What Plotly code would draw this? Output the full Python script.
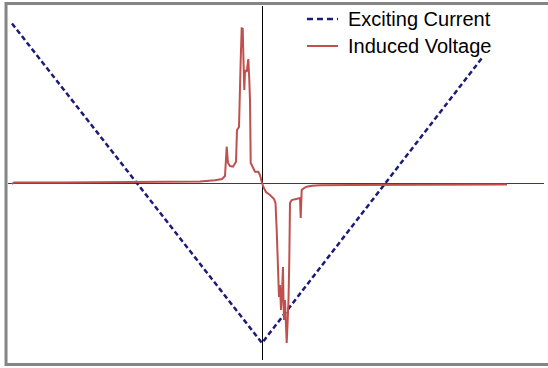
import plotly.graph_objects as go

# Exciting current (V shape) - time units, current units
current_t = [-25.0, 0.0, 22.0]
current_v = [16.0, -15.95, 12.55]

# Induced voltage (pixel estimates converted below)
volt_px = [12, 14, 60, 120, 180, 200, 215, 222, 225, 226.7, 228, 230, 233, 236, 237, 239, 240.7,
           241.7, 242.2, 242.7, 243.3, 244.3, 245, 245.7, 246.7, 247.5, 248.3, 249.3, 250, 250.7,
           253.3, 255, 258.3, 260, 261.7, 263.3, 266, 270, 274, 275.5, 276.7, 278, 279, 280, 281,
           282, 283, 283.5, 284, 285, 286, 286.7, 287.5, 288.5, 289.3, 290, 291.7, 295, 300,
           300.7, 301.7, 304, 306.7, 312, 320, 350, 400, 450, 507]
volt_py = [184, 182.5, 182.5, 182.3, 182.0, 181.5, 180.2, 179, 176, 146.7, 163, 166, 166.7, 161.7, 130, 127, 60,
           27.3, 40, 28, 53, 90, 72, 70, 72, 65, 59, 80, 100, 163,
           168, 171.7, 171.7, 175, 181.7, 186.7, 192, 195, 199, 203, 230, 270, 297, 285, 310,
           292, 267, 300, 320, 300, 330, 343, 325, 300, 260, 203, 200, 199, 198,
           218, 190, 188, 186.7, 185.7, 185.2, 185, 184.8, 184.6, 184.5]

volt_t = [(p - 262) / 10 for p in volt_px]
volt_v = [(183.5 - p) / 10 for p in volt_py]

series_names = ["Exciting Current", "Induced Voltage"]
series_colors = ["#1c1c78", "#c0504d"]

fig = go.Figure()
fig.add_trace(go.Scatter(x=current_t, y=current_v, mode="lines", name=series_names[0],
                         line=dict(color=series_colors[0], width=2.5, dash="5px,3px")))
fig.add_trace(go.Scatter(x=volt_t, y=volt_v, mode="lines", name=series_names[1],
                         line=dict(color=series_colors[1], width=2)))

fig.update_xaxes(range=[-25.4, 28.2], showgrid=False, showticklabels=False, ticks="",
                 zeroline=True, zerolinecolor="#000000", zerolinewidth=1, showline=False)
fig.update_yaxes(range=[-17.65, 17.75], showgrid=False, showticklabels=False, ticks="",
                 zeroline=True, zerolinecolor="#3a3a5a", zerolinewidth=1, showline=False)

fig.add_shape(type="rect", xref="paper", yref="paper", x0=-0.0037, x1=1.03, y0=-0.0127, y1=1.0071,
              line=dict(color="#858585", width=3), layer="above")

# Manual legend (symbols + text) placed as in the reference
legend_y = [0.9633, 0.887]
legend_dash = ["6px,4px", "solid"]
legend_width = [2.5, 2]
for name, col, ly, dsh, lw in zip(series_names, series_colors, legend_y, legend_dash, legend_width):
    fig.add_shape(type="line", xref="paper", yref="paper", x0=0.5578, x1=0.6157, y0=ly, y1=ly,
                  line=dict(color=col, width=lw, dash=dsh))
    fig.add_annotation(xref="paper", yref="paper", x=0.6306, y=ly, xanchor="left", yanchor="middle",
                       text=name, showarrow=False,
                       font=dict(family="Liberation Sans, Arial", size=20, color="#000000"))

fig.update_layout(
    width=548, height=368,
    margin=dict(l=8, r=4, t=6, b=8),
    paper_bgcolor="white", plot_bgcolor="white",
    showlegend=False,
)

fig.write_html("out.html")
